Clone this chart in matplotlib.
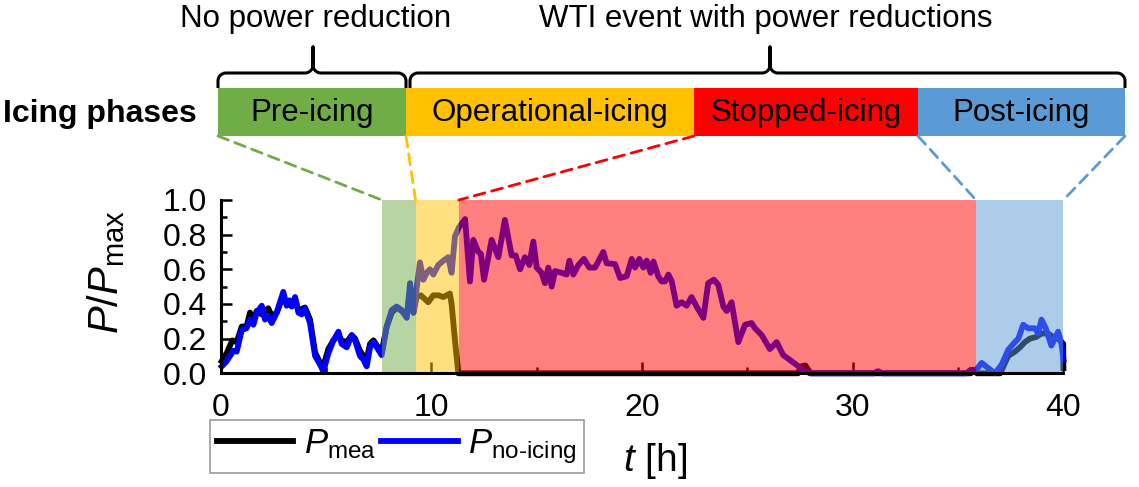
import numpy as np
import matplotlib
matplotlib.use("Agg")
import matplotlib.pyplot as plt
from matplotlib.patches import Rectangle, ConnectionPatch
from matplotlib.lines import Line2D
from matplotlib.ticker import MultipleLocator

plt.rcParams['font.family'] = ['Liberation Sans', 'DejaVu Sans']
plt.rcParams['mathtext.fontset'] = 'custom'
plt.rcParams['mathtext.rm'] = 'Liberation Sans'
plt.rcParams['mathtext.it'] = 'Liberation Sans:italic'

# P_no-icing (blue)
t_noice = [0.05, 0.28, 0.60, 0.76, 1.00, 1.23, 1.39, 1.55, 1.71, 1.95, 2.10, 2.26, 2.42, 2.66,
           2.97, 3.13, 3.26, 3.37, 3.53, 3.69, 3.84, 4.00, 4.24, 4.48, 4.72, 4.87, 5.11, 5.35,
           5.59, 5.74, 5.98, 6.22, 6.38, 6.61, 6.77, 6.93, 7.09, 7.25, 7.41, 7.64, 7.88, 8.12,
           8.35, 8.59, 8.83, 8.99, 9.15, 9.46, 9.62, 9.78, 9.93, 10.09, 10.33, 10.57, 10.80,
           10.96, 11.12, 11.30, 11.60, 11.83, 11.99, 12.23, 12.35, 12.50, 12.86, 13.18, 13.49,
           13.81, 14.00, 14.21, 14.44, 14.65, 14.84, 15.00, 15.23, 15.39, 15.55, 15.71, 15.87,
           16.18, 16.42, 16.55, 16.74, 16.98, 17.24, 17.50, 17.77, 18.16, 18.32, 18.72, 18.96,
           19.27, 19.51, 19.67, 19.87, 20.06, 20.22, 20.41, 20.54, 20.77, 20.93, 21.09, 21.25,
           21.41, 21.64, 21.88, 22.12, 22.35, 22.59, 22.91, 23.14, 23.41, 23.62, 23.86, 24.02,
           24.25, 24.57, 24.89, 25.20, 25.36, 25.68, 26.07, 26.39, 26.70, 27.02, 27.34, 27.65,
           27.97, 31.0, 31.2, 31.4, 35.4, 35.6, 35.8, 36.12, 36.43, 36.75, 37.07, 37.38, 37.62,
           37.86, 38.09, 38.33, 38.65, 38.80, 38.96, 39.16, 39.43, 39.75, 39.91, 40.0]
p_noice = [0.04, 0.07, 0.13, 0.125, 0.25, 0.26, 0.31, 0.28, 0.35, 0.39, 0.31, 0.33, 0.29, 0.35,
           0.47, 0.39, 0.42, 0.385, 0.44, 0.35, 0.34, 0.375, 0.29, 0.10, 0.05, 0.01, 0.115, 0.19,
           0.24, 0.17, 0.15, 0.22, 0.19, 0.10, 0.08, 0.04, 0.15, 0.18, 0.15, 0.105, 0.27, 0.365,
           0.385, 0.365, 0.32, 0.52, 0.35, 0.64, 0.54, 0.58, 0.60, 0.57, 0.625, 0.65, 0.67,
           0.58, 0.79, 0.84, 0.89, 0.53, 0.77, 0.70, 0.69, 0.54, 0.77, 0.67, 0.885,
           0.68, 0.68, 0.60, 0.67, 0.625, 0.76, 0.61, 0.58, 0.52, 0.61, 0.50, 0.59,
           0.58, 0.57, 0.65, 0.57, 0.625, 0.66, 0.61, 0.61, 0.70, 0.635, 0.63, 0.55,
           0.56, 0.66, 0.61, 0.66, 0.61, 0.65, 0.58, 0.645, 0.56, 0.53, 0.53, 0.57,
           0.53, 0.39, 0.41, 0.39, 0.44, 0.385, 0.32, 0.52, 0.54, 0.51, 0.385, 0.36,
           0.41, 0.18, 0.28, 0.29, 0.26, 0.22, 0.14, 0.18, 0.105, 0.077, 0.048, 0.02,
           0.0, 0.0, 0.012, 0.0, 0.0, 0.02, 0.01, 0.06, 0.03, 0.0, 0.05, 0.135, 0.17,
           0.20, 0.28, 0.26, 0.26, 0.23, 0.31, 0.26, 0.16, 0.24, 0.17, 0.08]

# P_mea (black)
t_mea = [0.05, 0.30, 0.55, 0.76, 1.00, 1.23, 1.39, 1.55, 1.71, 1.95, 2.10, 2.26, 2.42, 2.66,
         2.97, 3.13, 3.26, 3.37, 3.53, 3.69, 3.84, 4.00, 4.24, 4.48, 4.72, 4.87, 5.11, 5.35,
         5.59, 5.74, 5.98, 6.22, 6.38, 6.61, 6.77, 6.93, 7.09, 7.25, 7.41, 7.64, 7.88, 8.12,
         8.35, 8.59, 8.83, 8.99, 9.15, 9.30, 9.50, 9.85, 10.09, 10.33, 10.57, 10.88, 10.96,
         11.12, 11.28, 27.40, 27.55, 27.75, 28.00, 35.60, 35.70, 35.90, 37.00, 37.38, 37.70,
         37.94, 38.17, 38.41, 38.72, 38.96, 39.27, 39.51, 39.75, 39.99, 40.0]
p_mea = [0.07, 0.12, 0.19, 0.18, 0.27, 0.27, 0.35, 0.31, 0.36, 0.34, 0.36, 0.375, 0.33, 0.35,
         0.45, 0.40, 0.42, 0.39, 0.43, 0.36, 0.37, 0.38, 0.31, 0.12, 0.06, 0.04, 0.14, 0.19,
         0.22, 0.19, 0.18, 0.22, 0.20, 0.13, 0.10, 0.08, 0.17, 0.19, 0.16, 0.12, 0.27, 0.35,
         0.38, 0.36, 0.33, 0.47, 0.35, 0.44, 0.45, 0.41, 0.45, 0.45, 0.44, 0.46, 0.40,
         0.19, 0.0, 0.0, 0.04, 0.045, 0.0, 0.0, 0.02, 0.0, 0.0, 0.10, 0.125,
         0.15, 0.18, 0.20, 0.21, 0.23, 0.23, 0.21, 0.20, 0.17, 0.03]

# icing phases
phases = ['Pre-icing', 'Operational-icing', 'Stopped-icing', 'Post-icing']
phase_colors = ['#70AD47', '#FFC000', '#FF0000', '#5B9BD5']
phase_t = [7.65, 9.25, 11.3, 35.85, 40.0]     # phase limits in the time series [h]
box_px = [218, 406, 694, 918, 1125]           # phase boxes in the top schematic (pixels)

W, H = 1139, 487
fig = plt.figure(figsize=(W / 100, H / 100), dpi=100)

# overlay in pixel coordinates for the schematic part
over = fig.add_axes([0, 0, 1, 1])
over.set_xlim(0, W)
over.set_ylim(H, 0)
over.axis('off')

ax = fig.add_axes([220.7 / W, 1 - 373.3 / H, 842.7 / W, 173.3 / H])
ax.plot(t_mea, p_mea, color='black', lw=4.2, zorder=2, solid_joinstyle='round', clip_on=False)
ax.plot(t_noice, p_noice, color='#0000FF', lw=4.2, zorder=2.1, solid_joinstyle='round', clip_on=False)
for i, c in enumerate(phase_colors):
    ax.axvspan(phase_t[i], phase_t[i + 1], color=c, alpha=0.5, lw=0, zorder=3)

ax.set_xlim(0, 40)
ax.set_ylim(0, 1.0)
ax.xaxis.set_major_locator(MultipleLocator(10))
ax.xaxis.set_minor_locator(MultipleLocator(5))
ax.yaxis.set_major_locator(MultipleLocator(0.2))
ax.yaxis.set_minor_locator(MultipleLocator(0.1))
ax.yaxis.set_major_formatter(matplotlib.ticker.FormatStrFormatter('%.1f'))
ax.tick_params(which='both', direction='in', width=1.8, labelsize=23)
ax.tick_params(which='major', length=8)
ax.tick_params(which='minor', length=4.5)
ax.tick_params(axis='x', pad=14)
ax.tick_params(axis='y', pad=10)
for s in ['top', 'right']:
    ax.spines[s].set_visible(False)
for s in ['left', 'bottom']:
    ax.spines[s].set_linewidth(2.2)
    ax.spines[s].set_zorder(4)
ax.patch.set_alpha(0)

fig.text(106 / W, 1 - 272 / H, r'$P/P_{\mathrm{max}}$', rotation=90, fontsize=30,
         ha='center', va='center')
fig.text(655 / W, 1 - 461 / H, r'$t$ [h]', fontsize=28, ha='center', va='center')

# phase boxes
ybox0, ybox1 = 88, 136
for i, name in enumerate(phases):
    over.add_patch(Rectangle((box_px[i], ybox0), box_px[i + 1] - box_px[i], ybox1 - ybox0,
                             color=phase_colors[i], lw=0))
    over.text((box_px[i] + box_px[i + 1]) / 2, (ybox0 + ybox1) / 2 + 1, name, fontsize=22.5,
              ha='center', va='center')
over.text(100, 114, 'Icing phases', fontsize=23, fontweight='bold', ha='center', va='center')


def brace(x0, x1, xtip, ybase, yh, ytip, r=8):
    th = np.linspace(0, np.pi / 2, 20)
    # left end corner
    xa = x0 + r - r * np.cos(th)
    ya = yh + r - r * np.sin(th)
    # left side of tip
    xb = xtip - r + r * np.sin(th)
    yb = yh - r + r * np.cos(th)
    xs = np.r_[x0, xa, xb, xtip]
    ys = np.r_[ybase, ya, yb, ytip]
    xr = np.r_[xtip, (2 * xtip - xb)[::-1], (x1 - (xa - x0))[::-1], x1]
    yr = np.r_[ytip, yb[::-1], ya[::-1], ybase]
    over.plot(np.r_[xs, xr], np.r_[ys, yr], color='black', lw=2.2, solid_capstyle='butt')


brace(218, 406, 313, 88, 73, 47)
brace(410, 1125, 770, 88, 73, 47)
over.text(316, 19, 'No power reduction', fontsize=22.5, ha='center', va='center')
over.text(766, 19, 'WTI event with power reductions', fontsize=22.5, ha='center', va='center')

# dashed connectors from the boxes to the shaded spans
links = [(box_px[0], phase_t[0], phase_colors[0]),
         (box_px[1], phase_t[1], phase_colors[1]),
         (box_px[2], phase_t[2], phase_colors[2]),
         (box_px[3], phase_t[3], phase_colors[3]),
         (box_px[4], phase_t[4], phase_colors[3])]
for px, t, c in links:
    cp = ConnectionPatch((px, ybox1), (t, 1.0), coordsA=over.transData, coordsB=ax.transData,
                         color=c, lw=2, linestyle=(0, (4, 2.5)))
    fig.add_artist(cp)

handles = [Line2D([], [], color='black', lw=4.2), Line2D([], [], color='#0000FF', lw=4.2)]
leg = fig.legend(handles, [r'$P_{\mathrm{mea}}$', r'$P_{\mathrm{no\text{-}icing}}$'],
                 loc='upper left', bbox_to_anchor=(210 / W, 1 - 420 / H), ncol=2,
                 fontsize=25, frameon=True, fancybox=False, edgecolor='#808080',
                 handlelength=2.2, handletextpad=0.3, columnspacing=0.15, borderpad=0.2,
                 borderaxespad=0)
leg.get_frame().set_linewidth(1.2)

fig.savefig('out.png', dpi=100)
